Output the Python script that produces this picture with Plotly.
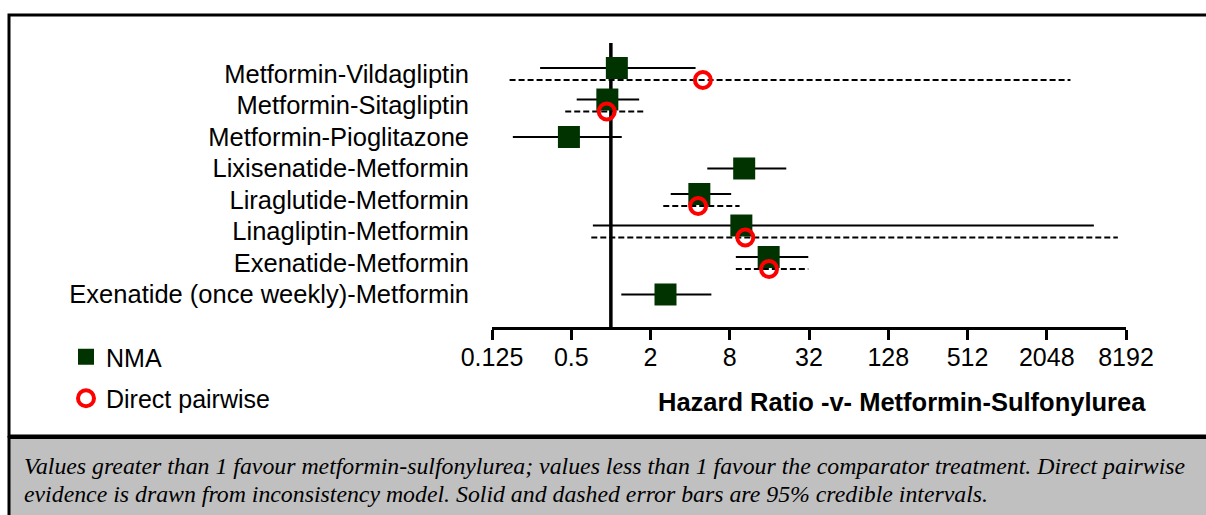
import plotly.graph_objects as go

# Comparisons (top to bottom)
comparisons = [
    "Metformin-Vildagliptin",
    "Metformin-Sitagliptin",
    "Metformin-Pioglitazone",
    "Lixisenatide-Metformin",
    "Liraglutide-Metformin",
    "Linagliptin-Metformin",
    "Exenatide-Metformin",
    "Exenatide (once weekly)-Metformin",
]

# Network meta-analysis hazard ratios with 95% credible intervals
nma_hr = [1.11, 0.94, 0.48, 10.3, 4.7, 9.8, 15.8, 2.6]
nma_lo = [0.29, 0.55, 0.18, 5.4, 2.85, 0.73, 8.9, 1.2]
nma_hi = [4.4, 1.64, 1.21, 21.5, 8.2, 4670, 31.6, 5.8]

# Direct pairwise estimates (inconsistency model); None where no direct evidence
direct_hr = [5.0, 0.93, None, None, 4.6, 10.5, 15.9, None]
direct_lo = [0.17, 0.45, None, None, 2.5, 0.71, 8.9, None]
direct_hi = [3100, 1.82, None, None, 9.5, 7100, 31.6, None]

tick_vals = [0.125, 0.5, 2, 8, 32, 128, 512, 2048, 8192]
tick_text = ["0.125", "0.5", "2", "8", "32", "128", "512", "2048", "8192"]

x_title = "Hazard Ratio -v- Metformin-Sulfonylurea"
footnote_lines = [
    "Values greater than 1 favour metformin-sulfonylurea; values less than 1 favour the "
    "comparator treatment. Direct pairwise",
    "evidence is drawn from inconsistency model. Solid and dashed error bars are 95% "
    "credible intervals.",
]

# ---- layout geometry ----
W, H = 1206, 515
ML, MR, MT, MB = 492, 80, 43, 188
PW, PH = W - ML - MR, H - MT - MB


def px_x(px):
    return (px - ML) / PW


def px_y(py):
    return (H - MB - py) / PH


OFF = 0.19  # vertical offset when both estimates are shown
rows = list(range(len(comparisons)))
nma_y = [r - OFF if direct_hr[r] is not None else r for r in rows]
dir_y = [r + OFF for r in rows]

FONT = "Arial, Liberation Sans, sans-serif"
SERIF = "Liberation Serif, Times New Roman, serif"
SQ_COLOR = "#003300"

fig = go.Figure()

# NMA intervals (solid)
xs, ys = [], []
for r in rows:
    xs += [nma_lo[r], nma_hi[r], None]
    ys += [nma_y[r], nma_y[r], None]
fig.add_trace(go.Scatter(x=xs, y=ys, mode="lines", line=dict(color="black", width=1.8),
                         showlegend=False, hoverinfo="skip"))

# Direct intervals (dashed)
xs, ys = [], []
for r in rows:
    if direct_hr[r] is None:
        continue
    xs += [direct_lo[r], direct_hi[r], None]
    ys += [dir_y[r], dir_y[r], None]
fig.add_trace(go.Scatter(x=xs, y=ys, mode="lines",
                         line=dict(color="black", width=2.2, dash="6px,3px"),
                         showlegend=False, hoverinfo="skip"))

# NMA point estimates
fig.add_trace(go.Scatter(x=nma_hr, y=nma_y, mode="markers", name="NMA", legendgroup="nma",
                         marker=dict(symbol="square", size=22, color=SQ_COLOR,
                                     line=dict(width=0))))

# Direct point estimates
dx = [direct_hr[r] for r in rows if direct_hr[r] is not None]
dy = [dir_y[r] for r in rows if direct_hr[r] is not None]
fig.add_trace(go.Scatter(x=dx, y=dy, mode="markers", name="Direct pairwise", legendgroup="dir",
                         marker=dict(symbol="circle-open", size=16, color="red",
                                     line=dict(width=4, color="red"))))

shapes = [
    # line of no effect
    dict(type="line", xref="x", yref="paper", x0=1, x1=1, y0=0, y1=1,
         line=dict(color="black", width=3.5), layer="below"),
    # outer frame
    dict(type="rect", xref="paper", yref="paper",
         x0=px_x(9), x1=px_x(1215), y0=px_y(436), y1=px_y(15),
         line=dict(color="black", width=3), fillcolor="rgba(0,0,0,0)", layer="below"),
    # footnote panel
    dict(type="rect", xref="paper", yref="paper",
         x0=px_x(9), x1=px_x(1215), y0=px_y(520), y1=px_y(437.5),
         line=dict(color="black", width=3), fillcolor="#c0c0c0", layer="below"),
]

annotations = [
    dict(text=f"<b>{x_title}</b>", xref="paper", yref="paper",
         x=px_x(1148), y=px_y(402), xanchor="right", yanchor="middle",
         showarrow=False, font=dict(family=FONT, size=25.5, color="black")),
]
for i, line in enumerate(footnote_lines):
    annotations.append(
        dict(text=f"<i>{line}</i>", xref="paper", yref="paper",
             x=px_x(22), y=px_y(466 + 28 * i), xanchor="left", yanchor="middle",
             align="left", showarrow=False,
             font=dict(family=SERIF, size=23.8, color="black")))

fig.update_layout(
    width=W, height=H,
    margin=dict(l=ML, r=MR, t=MT, b=MB),
    paper_bgcolor="white", plot_bgcolor="white",
    font=dict(family=FONT, size=25, color="black"),
    shapes=shapes,
    annotations=annotations,
    legend=dict(x=px_x(66), y=px_y(334), xanchor="left", yanchor="top",
                font=dict(family=FONT, size=25, color="black"),
                bgcolor="rgba(0,0,0,0)", borderwidth=0, tracegroupgap=6),
    xaxis=dict(type="log", range=[-0.90309, 3.91339],
               tickvals=tick_vals, ticktext=tick_text,
               showline=True, linecolor="black", linewidth=3,
               ticks="outside", ticklen=10, tickwidth=3, tickcolor="black",
               ticklabelstandoff=-4,
               showgrid=False, zeroline=False,
               tickfont=dict(family=FONT, size=25, color="black")),
    yaxis=dict(range=[8.032, -0.984], tickvals=rows, ticktext=comparisons,
               showgrid=False, zeroline=False, showline=False, ticks="",
               ticklabelstandoff=22,
               tickfont=dict(family=FONT, size=25.5, color="black")),
)

fig.write_html("out.html")
